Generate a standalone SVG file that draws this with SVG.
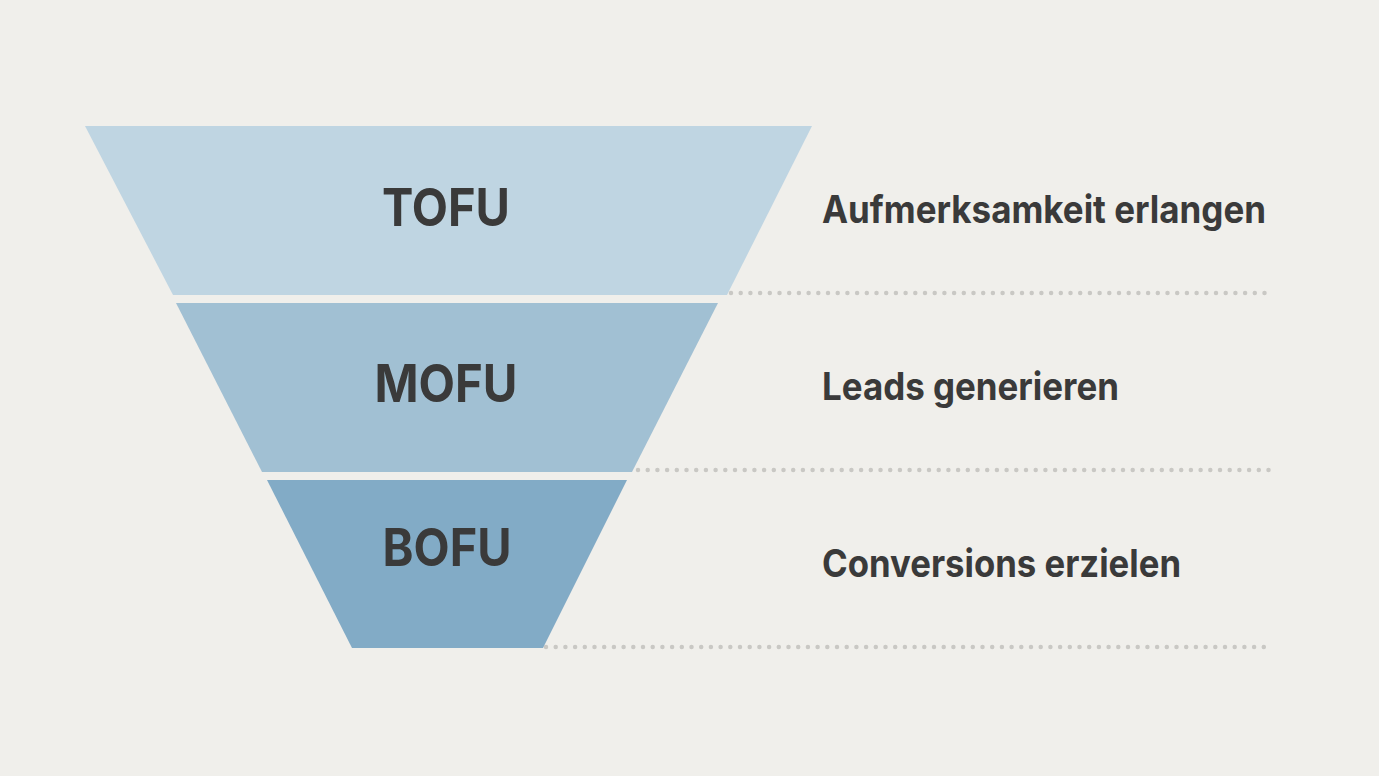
<svg xmlns="http://www.w3.org/2000/svg" width="1379" height="776" viewBox="0 0 1379 776">
<style>
.stage{font-family:Inter,"Liberation Sans",Arial,sans-serif;font-weight:bold;font-size:52px;fill:#3a3a3a;text-anchor:middle}
.desc{font-family:Inter,"Liberation Sans",Arial,sans-serif;font-weight:bold;font-size:38px;fill:#3a3a3a}
.dots{stroke:#c9c8c4;stroke-width:4.5;stroke-linecap:round;stroke-dasharray:0 9.7;fill:none}
</style>
<rect width="1379" height="776" fill="#f0efeb"/>
<g id="connectors">
<line class="dots" x1="731" y1="293" x2="1270" y2="293"/>
<line class="dots" x1="638" y1="470" x2="1270" y2="470"/>
<line class="dots" x1="546" y1="647" x2="1270" y2="647"/>
</g>
<g id="tofu">
<polygon points="85,126 812,126 727,295 173,295" fill="#bfd5e2"/>
<text class="stage" x="446" y="226" textLength="128" lengthAdjust="spacingAndGlyphs">TOFU</text>
</g>
<g id="mofu">
<polygon points="176,303 718,303 632,472 262,472" fill="#a1c0d3"/>
<text class="stage" x="446" y="402" textLength="143" lengthAdjust="spacingAndGlyphs">MOFU</text>
</g>
<g id="bofu">
<polygon points="267,480 627,480 543,648 352,648" fill="#82abc6"/>
<text class="stage" x="447" y="566" textLength="129" lengthAdjust="spacingAndGlyphs">BOFU</text>
</g>
<g id="label-tofu">
<text class="desc" x="822" y="223" textLength="444" lengthAdjust="spacingAndGlyphs">Aufmerksamkeit erlangen</text>
</g>
<g id="label-mofu">
<text class="desc" x="822" y="400" textLength="297" lengthAdjust="spacingAndGlyphs">Leads generieren</text>
</g>
<g id="label-bofu">
<text class="desc" x="822" y="577" textLength="359" lengthAdjust="spacingAndGlyphs">Conversions erzielen</text>
</g>
</svg>
